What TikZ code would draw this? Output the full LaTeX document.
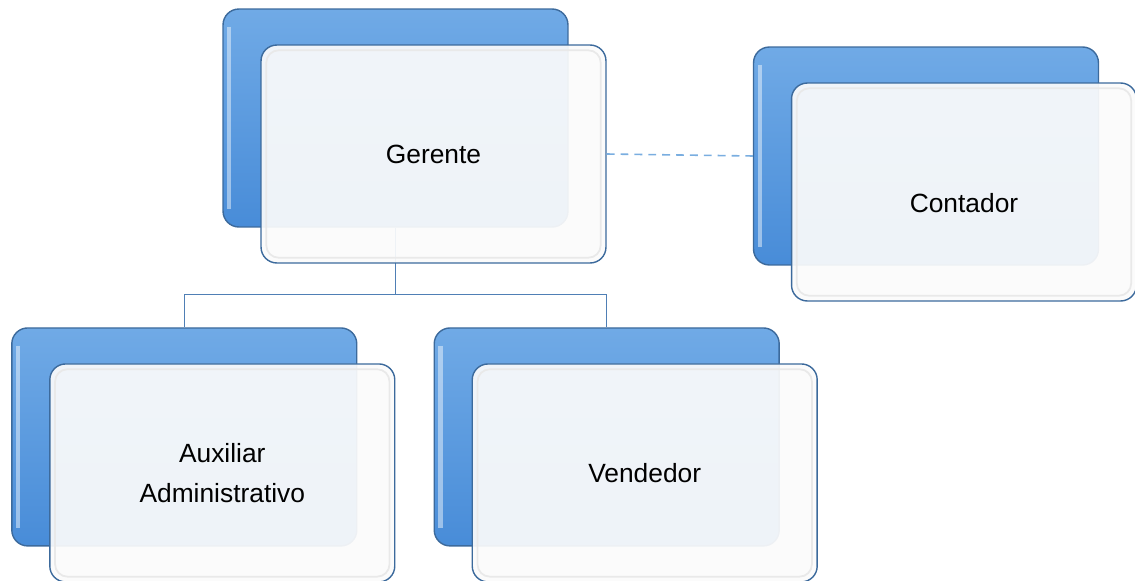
\documentclass[tikz,border=0pt]{standalone}
\usepackage{fontspec}
\setmainfont{Liberation Sans}
\usepackage{xcolor}
\usepackage{tikz}
\usetikzlibrary{positioning}

\definecolor{azulTop}{HTML}{70AAE6}
\definecolor{azulBot}{HTML}{488CD8}
\definecolor{azulBorde}{HTML}{3C6A9C}
\definecolor{lineaAzul}{HTML}{4F7FB5}
\definecolor{guionAzul}{HTML}{7AAEE0}
\definecolor{frente}{HTML}{FBFBFB}
\definecolor{bisel}{HTML}{E9E9E9}

\tikzset{
    fondo/.style={draw=azulBorde, line width=0.8pt, rounded corners=9pt,
        top color=azulTop, bottom color=azulBot,
        minimum width=6.9cm, minimum height=4.36cm, inner sep=0pt,
        path picture={\draw[white, opacity=0.45, line width=2.5pt]
            ([xshift=3.5pt,yshift=-10pt]path picture bounding box.north west) --
            ([xshift=3.5pt,yshift=10pt]path picture bounding box.south west);}},
    cargo/.style={draw=azulBorde, line width=0.8pt, rounded corners=9pt,
        fill=frente, fill opacity=0.93, text opacity=1,
        minimum width=6.9cm, minimum height=4.36cm, align=center,
        font=\fontsize{15}{22.5}\selectfont,
        path picture={\draw[bisel, line width=1pt, rounded corners=7pt]
            ([shift={(3pt,-3pt)}]path picture bounding box.north west) rectangle
            ([shift={(-3pt,3pt)}]path picture bounding box.south east);}},
    guion/.style={draw=guionAzul, line width=0.9pt, dash pattern=on 4.5pt off 3.4pt}
}

\begin{document}
\begin{tikzpicture}[
    x=0.02cm, y=-0.02cm,
    level distance=6.38cm,
    sibling distance=8.45cm,
    edge from parent/.style={draw=lineaAzul, line width=0.85pt},
    edge from parent path={(\tikzparentnode.south) -- ++(0,-1.34cm) -| (\tikzchildnode.north)}]
    \useasboundingbox (0,0) rectangle (1135,581);
    % cajas de fondo
    \node[fondo] (contadorFondo) at (926,156) {};
    \node[fondo] (gerenteFondo) at (395.5,118) {}
    child {node[fondo] (auxFondo) {}}
    child {node[fondo] (vendFondo) {}};
    % cajas de frente
    \node[cargo] (gerente) at ([shift={(38,36)}]gerenteFondo.center) {Gerente};
    \node[cargo] (contador) at ([shift={(38,36)}]contadorFondo.center) {\raisebox{-0.42cm}[0pt][0pt]{Contador}};
    \node[cargo] (aux) at ([shift={(38,36)}]auxFondo.center) {Auxiliar\\Administrativo};
    \node[cargo] (vend) at ([shift={(38,36)}]vendFondo.center) {Vendedor};
    \draw[guion] (gerente.east) -- (contadorFondo.west);
\end{tikzpicture}
\end{document}
